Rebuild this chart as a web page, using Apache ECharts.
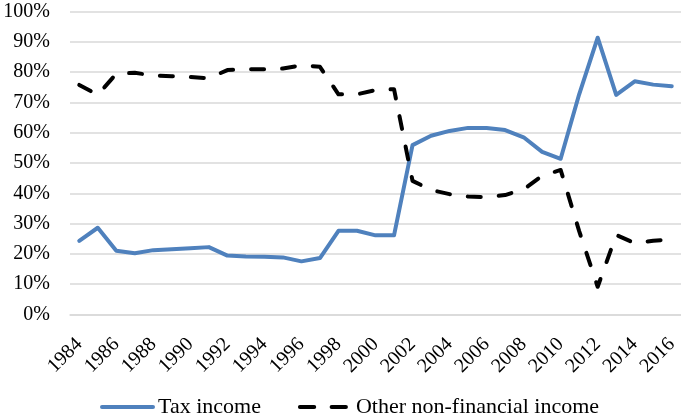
<!DOCTYPE html>
<html>
<head>
<meta charset="utf-8">
<script src="https://cdn.jsdelivr.net/npm/echarts@6/dist/echarts.min.js"></script>
<style>html,body{margin:0;padding:0;background:#fff}#c{width:681px;height:420px}</style>
</head>
<body>
<div id="c"></div>
<script>
var years = ['1984','1985','1986','1987','1988','1989','1990','1991','1992','1993','1994','1995','1996','1997','1998','1999','2000','2001','2002','2003','2004','2005','2006','2007','2008','2009','2010','2011','2012','2013','2014','2015','2016'];
var taxIncome = [24.3,28.6,21.0,20.2,21.2,21.5,21.8,22.2,19.4,19.1,19.0,18.8,17.5,18.6,27.6,27.6,26.1,26.1,55.9,59.0,60.6,61.6,61.6,60.9,58.5,53.7,51.4,72.7,91.4,72.5,77.0,75.9,75.4];
var otherIncome = [75.8,72.5,79.5,79.8,78.9,78.7,78.4,78.0,80.7,81.0,81.0,81.2,82.3,81.8,72.7,72.7,74.1,74.4,44.1,41.1,39.7,38.9,38.7,39.4,41.3,45.8,47.7,27.5,9.1,26.2,23.5,24.3,24.8];
var seriesNames = ['Tax income','Other non-financial income'];

var font = 'Liberation Serif, Times New Roman, serif';
var box = 'M0,0 L0,0 Z M55,55 L55,55 Z ';
var solidIcon = 'path://' + box + 'M2,25.5 L53,25.5 A2,2 0 0 1 53,29.5 L2,29.5 A2,2 0 0 1 2,25.5 Z';
var dashIcon = 'path://' + box + 'M2,25.5 L16.3,25.5 A2,2 0 0 1 16.3,29.5 L2,29.5 A2,2 0 0 1 2,25.5 Z ' +
               'M33.7,25.5 L48,25.5 A2,2 0 0 1 48,29.5 L33.7,29.5 A2,2 0 0 1 33.7,25.5 Z';
var chart = echarts.init(document.getElementById('c'), null, {renderer:'canvas'});
chart.setOption({
  animation:false,
  backgroundColor:'#fff',
  grid:{left:70, right:0, top:11.7, bottom:105.7, containLabel:false},
  legend:{
    top:379.5, left:100, padding:0,
    itemWidth:55, itemHeight:68.75, itemGap:37,
    textStyle:{fontFamily:font, fontSize:22, color:'#000', padding:[0,0,0,-2]},
    data:[
      {name:seriesNames[0], icon:solidIcon, itemStyle:{color:'#4f81bd', borderWidth:0}, lineStyle:{opacity:0}},
      {name:seriesNames[1], icon:dashIcon, itemStyle:{color:'#000', borderWidth:0}, lineStyle:{opacity:0}}
    ]
  },
  xAxis:{
    type:'category', data:years, boundaryGap:true,
    axisLine:{show:true, lineStyle:{color:'#d9d9d9', width:1.5}},
    axisTick:{show:false},
    axisLabel:{interval:1, rotate:45, margin:27, fontFamily:font, fontSize:20, color:'#000'}
  },
  yAxis:{
    type:'value', min:0, max:100, interval:10,
    axisLine:{show:false}, axisTick:{show:false},
    splitLine:{lineStyle:{color:'#d9d9d9', width:1.5}},
    axisLabel:{formatter:'{value}%', margin:20, fontFamily:font, fontSize:20, color:'#000'}
  },
  series:[
    {name:seriesNames[0], type:'line', data:taxIncome, symbol:'none',
     lineStyle:{color:'#4f81bd', width:4, cap:'round', join:'round'}, itemStyle:{color:'#4f81bd'}},
    {name:seriesNames[1], type:'line', data:otherIncome, symbol:'none',
     lineStyle:{color:'#000', width:4, type:[13,18], cap:'round', join:'round'}, itemStyle:{color:'#000'}}
  ]
});
</script>
</body>
</html>
